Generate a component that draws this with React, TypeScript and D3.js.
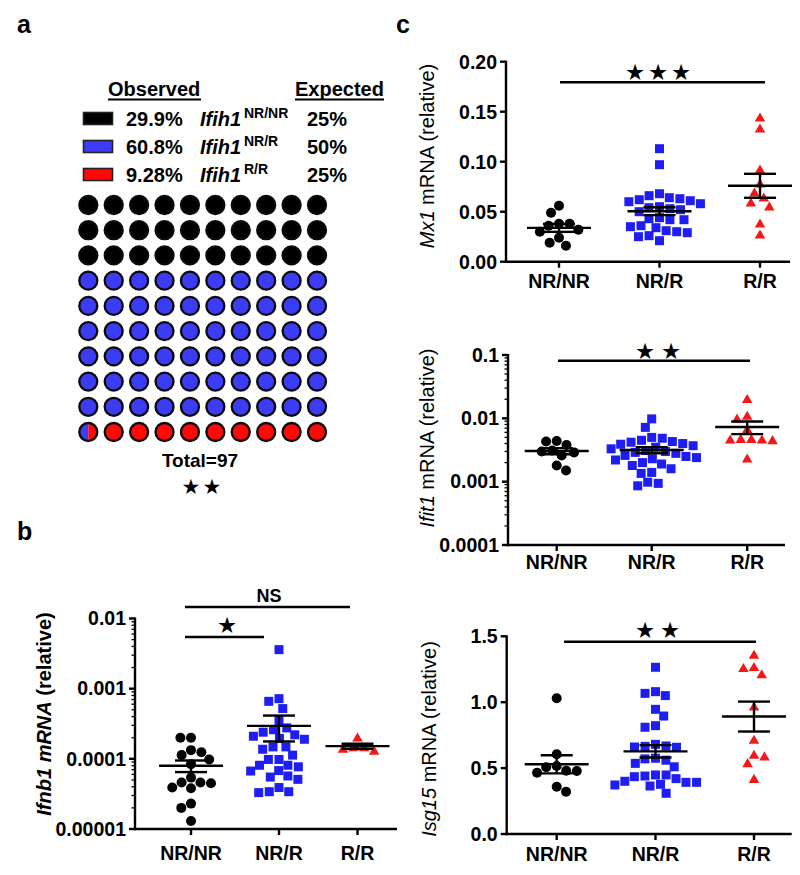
import React from 'react';
import * as d3 from 'd3';

// ---------------- DATA ----------------
const genotypes = ['NR/NR', 'NR/R', 'R/R'];
const observedCounts = [29, 59, 9];
const expectedPercent = [25, 50, 25];
const waffleSize = 100;

// panel b : Ifnb1 mRNA (relative)
const ifnb1NRNR = [2.0e-4, 2.0e-4, 1.33e-4, 1.24e-4, 1.13e-4, 9.8e-5, 8.4e-5, 5.4e-5, 4.6e-5, 4.6e-5, 4.5e-5, 3.9e-5, 3.8e-5, 2.3e-5, 2.0e-5, 1.3e-5];
const ifnb1NRR = [3.6e-3, 7.2e-4, 6.6e-4, 5.2e-4, 3.5e-4, 2.76e-4, 2.6e-4, 2.4e-4, 2.2e-4, 2.1e-4, 1.95e-4, 1.9e-4, 1.48e-4, 1.48e-4, 1.37e-4, 1.13e-4, 9.8e-5, 9.8e-5, 8.1e-5, 8.1e-5, 7.7e-5, 6.8e-5, 6.7e-5, 5.7e-5, 5.5e-5, 5.1e-5, 3.9e-5, 3.4e-5, 3.4e-5, 3.3e-5];
const ifnb1RR = [2.0e-4, 1.45e-4, 1.45e-4, 1.38e-4, 1.3e-4];

// panel c : Mx1
const mx1NRNR = [0.056, 0.049, 0.038, 0.038, 0.036, 0.032, 0.030, 0.024, 0.019, 0.016];
const mx1NRR = [0.113, 0.097, 0.068, 0.066, 0.064, 0.063, 0.062, 0.061, 0.060, 0.058, 0.055, 0.054, 0.053, 0.052, 0.050, 0.044, 0.043, 0.042, 0.042, 0.036, 0.035, 0.034, 0.031, 0.030, 0.029, 0.026, 0.025, 0.021];
const mx1RR = [0.144, 0.133, 0.092, 0.078, 0.069, 0.064, 0.059, 0.055, 0.038, 0.027];

// panel c : Ifit1
const ifit1NRNR = [4.4e-3, 4.3e-3, 3.8e-3, 3.1e-3, 3.0e-3, 2.9e-3, 2.6e-3, 1.8e-3, 1.5e-3];
const ifit1NRR = [9.8e-3, 7.2e-3, 5.0e-3, 4.85e-3, 4.5e-3, 4.3e-3, 4.2e-3, 4.0e-3, 3.9e-3, 3.7e-3, 3.5e-3, 3.3e-3, 3.1e-3, 3.0e-3, 2.9e-3, 2.8e-3, 2.6e-3, 2.5e-3, 2.4e-3, 2.3e-3, 2.2e-3, 2.0e-3, 1.9e-3, 1.8e-3, 1.6e-3, 1.4e-3, 1.35e-3, 9.8e-4, 9.4e-4, 8.6e-4];
const ifit1RR = [0.020, 0.0109, 0.0098, 0.0067, 0.0047, 0.0047, 0.0046, 0.0046, 0.0045, 0.0023];

// panel c : Isg15
const isg15NRNR = [1.03, 0.605, 0.516, 0.506, 0.48, 0.478, 0.465, 0.359, 0.321];
const isg15NRR = [1.265, 1.08, 1.067, 1.05, 0.946, 0.895, 0.822, 0.81, 0.68, 0.668, 0.665, 0.66, 0.658, 0.575, 0.57, 0.56, 0.536, 0.51, 0.448, 0.448, 0.44, 0.435, 0.42, 0.40, 0.392, 0.392, 0.377, 0.372, 0.364, 0.309];
const isg15RR = [1.358, 1.265, 1.258, 1.21, 0.966, 0.713, 0.6, 0.587, 0.536, 0.417];

// tick labels
const ifnb1Ticks = [1e-5, 1e-4, 1e-3, 1e-2];
const ifnb1TickLabels = ['0.00001', '0.0001', '0.001', '0.01'];
const ifit1Ticks = [1e-4, 1e-3, 1e-2, 1e-1];
const ifit1TickLabels = ['0.0001', '0.001', '0.01', '0.1'];
const mx1Ticks = [0, 0.05, 0.1, 0.15, 0.2];
const isg15Ticks = [0, 0.5, 1.0, 1.5];

// ---------------- STYLE ----------------
const FONT = 'Liberation Sans, Arial, Helvetica, sans-serif';
const STAR_FONT = 'DejaVu Sans, sans-serif';
const C_BLACK = '#000000';
const C_BLUE = '#1e1ef2';
const C_RED = '#f21818';
const W_BLUE = '#3c3cf5';
const W_RED = '#ff0808';
const groupColor = [C_BLACK, C_BLUE, C_RED];
const STAR_SIZE = 22.5;

function swarm(vals: number[], y: (v: number) => number, d: number) {
  const pts = vals.map((v, i) => ({ v, i, y: y(v), x: 0 }));
  const order = pts.slice().sort((a, b) => a.y - b.y);
  const placed: typeof pts = [];
  let flip = 1;
  for (const p of order) {
    const cands = [0];
    for (const q of placed) {
      const dy = Math.abs(q.y - p.y);
      if (dy < d) {
        const dx = Math.sqrt(d * d - dy * dy);
        cands.push(q.x + dx, q.x - dx);
      }
    }
    const ok = cands.filter((x) => placed.every((q) => (q.x - x) ** 2 + (q.y - p.y) ** 2 >= d * d - 1e-6));
    ok.sort((a, b) => Math.abs(a) - Math.abs(b) || (a - b) * flip);
    p.x = ok[0];
    if (ok.length > 1 && Math.abs(Math.abs(ok[0]) - Math.abs(ok[1])) < 1e-6) flip = -flip;
    placed.push(p);
  }
  return pts;
}

type Bracket = { x1: number; x2: number; y: number; stars?: number; text?: string; cx: number; ty: number; spacing?: number };

type PanelCfg = {
  groups: number[][];
  y: any;
  log: boolean;
  ticks: number[];
  tickLabels: string[];
  axisX: number;
  axisEnd: number;
  catX: number[];
  labelItalic: string;
  labelRest: string;
  labelBold: boolean;
  labelX: number;
  labelY: number;
  catBaseline: number;
  brackets: Bracket[];
};

function Stars({ n, cx, cy, spacing, size }: { n: number; cx: number; cy: number; spacing: number; size: number }) {
  return (
    <g>
      {d3.range(n).map((i) => (
        <text key={i} x={cx + (i - (n - 1) / 2) * spacing} y={cy + size * 0.36} textAnchor="middle" fontFamily={STAR_FONT} fontSize={size} fill="#000">
          ★
        </text>
      ))}
    </g>
  );
}

function ScatterPanel({ cfg }: { cfg: PanelCfg }) {
  const { y, axisX, axisEnd, catX } = cfg;
  const x = d3.scaleOrdinal<string, number>().domain(genotypes).range(catX);
  const yTop = y.range()[1];
  const yBot = y.range()[0];
  const minor: number[] = [];
  if (cfg.log) {
    const [lo, hi] = y.domain();
    for (let e = Math.log10(lo); e < Math.log10(hi); e++) {
      for (let k = 2; k <= 9; k++) minor.push(k * Math.pow(10, e));
    }
  }
  const tri = d3.symbol(d3.symbolTriangle, 48)();
  return (
    <g>
      {cfg.groups.map((vals, gi) => {
        const pts = swarm(vals, (v) => y(v), 10.6);
        const cx0 = x(genotypes[gi]);
        return (
          <g key={gi} fill={groupColor[gi]}>
            {pts.map((p) =>
              gi === 0 ? (
                <circle key={p.i} cx={cx0 + p.x} cy={p.y} r={5} />
              ) : gi === 1 ? (
                <rect key={p.i} x={cx0 + p.x - 4.5} y={p.y - 4.5} width={9} height={9} />
              ) : (
                <path key={p.i} d={tri as string} transform={`translate(${cx0 + p.x},${p.y + 0.8})`} />
              )
            )}
          </g>
        );
      })}
      {cfg.groups.map((vals, gi) => {
        const m = d3.mean(vals) as number;
        const sem = (d3.deviation(vals) as number) / Math.sqrt(vals.length);
        const cx0 = x(genotypes[gi]);
        return (
          <g key={'m' + gi} stroke="#000" strokeWidth={2.4}>
            <line x1={cx0 - 32} x2={cx0 + 32} y1={y(m)} y2={y(m)} />
            <line x1={cx0} x2={cx0} y1={y(m + sem)} y2={y(m - sem)} />
            <line x1={cx0 - 16} x2={cx0 + 16} y1={y(m + sem)} y2={y(m + sem)} />
            <line x1={cx0 - 16} x2={cx0 + 16} y1={y(m - sem)} y2={y(m - sem)} />
          </g>
        );
      })}
      <g stroke="#000" strokeWidth={2.4}>
        <line x1={axisX} x2={axisX} y1={yTop - 1} y2={yBot + 1.2} />
        <line x1={axisX - 1.2} x2={axisEnd} y1={yBot} y2={yBot} />
        {cfg.ticks.map((t) => (
          <line key={t} x1={axisX - 6} x2={axisX} y1={y(t)} y2={y(t)} />
        ))}
        {genotypes.map((g) => (
          <line key={g} x1={x(g)} x2={x(g)} y1={yBot} y2={yBot + 6} />
        ))}
      </g>
      <g stroke="#000" strokeWidth={1.3}>
        {minor.map((t) => (
          <line key={t} x1={axisX - 3.5} x2={axisX} y1={y(t)} y2={y(t)} />
        ))}
      </g>
      <g fontFamily={FONT} fontWeight="bold" fontSize={19.5} fill="#000">
        {cfg.ticks.map((t, i) => (
          <text key={t} x={axisX - 9} y={y(t)} dy="0.35em" textAnchor="end">
            {cfg.tickLabels[i]}
          </text>
        ))}
        {genotypes.map((g) => (
          <text key={g} x={x(g)} y={cfg.catBaseline} textAnchor="middle">
            {g}
          </text>
        ))}
      </g>
      <text
        transform={`translate(${cfg.labelX},${cfg.labelY}) rotate(-90)`}
        textAnchor="middle"
        dy="0.35em"
        fontFamily={FONT}
        fontSize={20}
        fontWeight={cfg.labelBold ? 'bold' : 'normal'}
        fill="#000"
      >
        <tspan fontStyle="italic">{cfg.labelItalic}</tspan>
        <tspan fontStyle="normal">{cfg.labelRest}</tspan>
      </text>
      {cfg.brackets.map((b, i) => (
        <g key={'b' + i}>
          <line x1={b.x1} x2={b.x2} y1={b.y} y2={b.y} stroke="#000" strokeWidth={2.6} />
          {b.stars ? <Stars n={b.stars} cx={b.cx} cy={b.ty} spacing={b.spacing || 23} size={STAR_SIZE} /> : null}
          {b.text ? (
            <text x={b.cx} y={b.ty} textAnchor="middle" fontFamily={FONT} fontWeight="bold" fontSize={18}>
              {b.text}
            </text>
          ) : null}
        </g>
      ))}
    </g>
  );
}

function Waffle() {
  const total = d3.sum(observedCounts);
  const pct = observedCounts.map((c) => (c / total) * 100);
  const cum = d3.cumsum(pct);
  const starts = [0, cum[0], cum[1]];
  const cols = d3.scalePoint<number>().domain(d3.range(10)).range([88.3, 317]);
  const rows = d3.scalePoint<number>().domain(d3.range(10)).range([205, 432]);
  const fills = ['#000', W_BLUE, W_RED];
  const r = 9;
  const cells = d3.range(waffleSize).map((i) => {
    const lo = (i * 100) / waffleSize;
    const hi = ((i + 1) * 100) / waffleSize;
    const fr = pct.map((_, g) => Math.max(0, Math.min(hi, cum[g]) - Math.max(lo, starts[g])) / (hi - lo));
    const order = d3.range(3).filter((g) => fr[g] > 0);
    const main = d3.maxIndex(fr);
    return { i, cx: cols(i % 10) as number, cy: rows(Math.floor(i / 10)) as number, fr, order, main };
  });
  return (
    <g>
      {cells.map((c) => {
        const split = c.fr[c.main] < 0.85 && c.order.length > 1;
        if (!split) {
          return <circle key={c.i} cx={c.cx} cy={c.cy} r={r} fill={fills[c.main]} stroke="#0a0a0a" strokeWidth={2.3} />;
        }
        const left = `M${c.cx},${c.cy - r} A${r},${r} 0 0 0 ${c.cx},${c.cy + r} Z`;
        const right = `M${c.cx},${c.cy - r} A${r},${r} 0 0 1 ${c.cx},${c.cy + r} Z`;
        return (
          <g key={c.i}>
            <path d={left} fill={fills[c.order[0]]} />
            <path d={right} fill={fills[c.order[1]]} />
            <circle cx={c.cx} cy={c.cy} r={r} fill="none" stroke="#0a0a0a" strokeWidth={2.3} />
          </g>
        );
      })}
    </g>
  );
}

function Legend() {
  const total = d3.sum(observedCounts);
  const pct = observedCounts.map((c) => (c / total) * 100);
  const fmt = (p: number) => (p < 10 ? d3.format('.2f')(p) : d3.format('.1f')(p)) + '%';
  const rowY = d3.scalePoint<number>().domain([0, 1, 2]).range([126, 182]);
  const fills = ['#000', W_BLUE, W_RED];
  return (
    <g fontFamily={FONT} fontWeight="bold" fill="#000">
      <text x={108} y={95.5} fontSize={20}>Observed</text>
      <line x1={108} x2={201} y1={99.5} y2={99.5} stroke="#000" strokeWidth={1.8} />
      <text x={295} y={95.5} fontSize={20}>Expected</text>
      <line x1={295} x2={384} y1={99.5} y2={99.5} stroke="#000" strokeWidth={1.8} />
      {genotypes.map((g, i) => {
        const by = rowY(i) as number;
        return (
          <g key={g}>
            <rect x={83.5} y={by - 13.5} width={29} height={12} fill={fills[i]} stroke="#222" strokeWidth={1.6} />
            <text x={126} y={by} fontSize={20}>{fmt(pct[i])}</text>
            <text x={200} y={by} fontSize={20}>
              <tspan fontStyle="italic">Ifih1</tspan>
              <tspan x={244} dy={-8} fontSize={14}>{g}</tspan>
            </text>
            <text x={307} y={by} fontSize={20}>{expectedPercent[i]}%</text>
          </g>
        );
      })}
    </g>
  );
}

export default function App() {
  const panelB: PanelCfg = {
    groups: [ifnb1NRNR, ifnb1NRR, ifnb1RR],
    y: d3.scaleLog().domain([1e-5, 1e-2]).range([829, 618.5]),
    log: true,
    ticks: ifnb1Ticks,
    tickLabels: ifnb1TickLabels,
    axisX: 135,
    axisEnd: 397,
    catX: [191, 279, 357.5],
    labelItalic: 'Ifnb1 mRNA',
    labelRest: ' (relative)',
    labelBold: true,
    labelX: 44,
    labelY: 714,
    catBaseline: 860,
    brackets: [
      { x1: 185, x2: 350, y: 607, text: 'NS', cx: 269, ty: 602 },
      { x1: 185, x2: 264, y: 637, stars: 1, cx: 227, ty: 625 },
    ],
  };
  const panelMx1: PanelCfg = {
    groups: [mx1NRNR, mx1NRR, mx1RR],
    y: d3.scaleLinear().domain([0, 0.2]).range([261.7, 61.7]),
    log: false,
    ticks: mx1Ticks,
    tickLabels: mx1Ticks.map(d3.format('.2f')),
    axisX: 506,
    axisEnd: 790,
    catX: [559, 659.5, 760],
    labelItalic: 'Mx1',
    labelRest: ' mRNA (relative)',
    labelBold: false,
    labelX: 427,
    labelY: 156,
    catBaseline: 288,
    brackets: [{ x1: 560, x2: 765, y: 82.3, stars: 3, cx: 658, ty: 71.5, spacing: 23 }],
  };
  const panelIfit1: PanelCfg = {
    groups: [ifit1NRNR, ifit1NRR, ifit1RR],
    y: d3.scaleLog().domain([1e-4, 1e-1]).range([545, 355]),
    log: true,
    ticks: ifit1Ticks,
    tickLabels: ifit1TickLabels,
    axisX: 508,
    axisEnd: 785,
    catX: [556.7, 651.7, 747.2],
    labelItalic: 'Ifit1',
    labelRest: ' mRNA (relative)',
    labelBold: false,
    labelX: 427,
    labelY: 438,
    catBaseline: 569,
    brackets: [{ x1: 558, x2: 750, y: 360.7, stars: 2, cx: 658, ty: 350.5, spacing: 26 }],
  };
  const panelIsg15: PanelCfg = {
    groups: [isg15NRNR, isg15NRR, isg15RR],
    y: d3.scaleLinear().domain([0, 1.5]).range([834, 636.3]),
    log: false,
    ticks: isg15Ticks,
    tickLabels: isg15Ticks.map(d3.format('.1f')),
    axisX: 506.7,
    axisEnd: 791.7,
    catX: [556.7, 655.5, 754],
    labelItalic: 'Isg15',
    labelRest: ' mRNA (relative)',
    labelBold: false,
    labelX: 429,
    labelY: 739,
    catBaseline: 861,
    brackets: [{ x1: 564, x2: 756, y: 641.7, stars: 2, cx: 657.5, ty: 630, spacing: 25 }],
  };
  const total = d3.sum(observedCounts);
  return (
    <svg width={800} height={875} style={{ position: 'absolute', left: 0, top: 0, background: '#fff' }} xmlns="http://www.w3.org/2000/svg">
      <rect width={800} height={875} fill="#fff" />
      <g fontFamily={FONT} fontWeight="bold" fontSize={25} fill="#000">
        <text x={17} y={33}>a</text>
        <text x={17} y={540}>b</text>
        <text x={396} y={33}>c</text>
      </g>
      <Legend />
      <Waffle />
      <text x={200} y={466.5} textAnchor="middle" fontFamily={FONT} fontWeight="bold" fontSize={19}>
        Total={total}
      </text>
      <Stars n={2} cx={201.5} cy={486.5} spacing={21} size={21} />
      <ScatterPanel cfg={panelB} />
      <ScatterPanel cfg={panelMx1} />
      <ScatterPanel cfg={panelIfit1} />
      <ScatterPanel cfg={panelIsg15} />
    </svg>
  );
}
